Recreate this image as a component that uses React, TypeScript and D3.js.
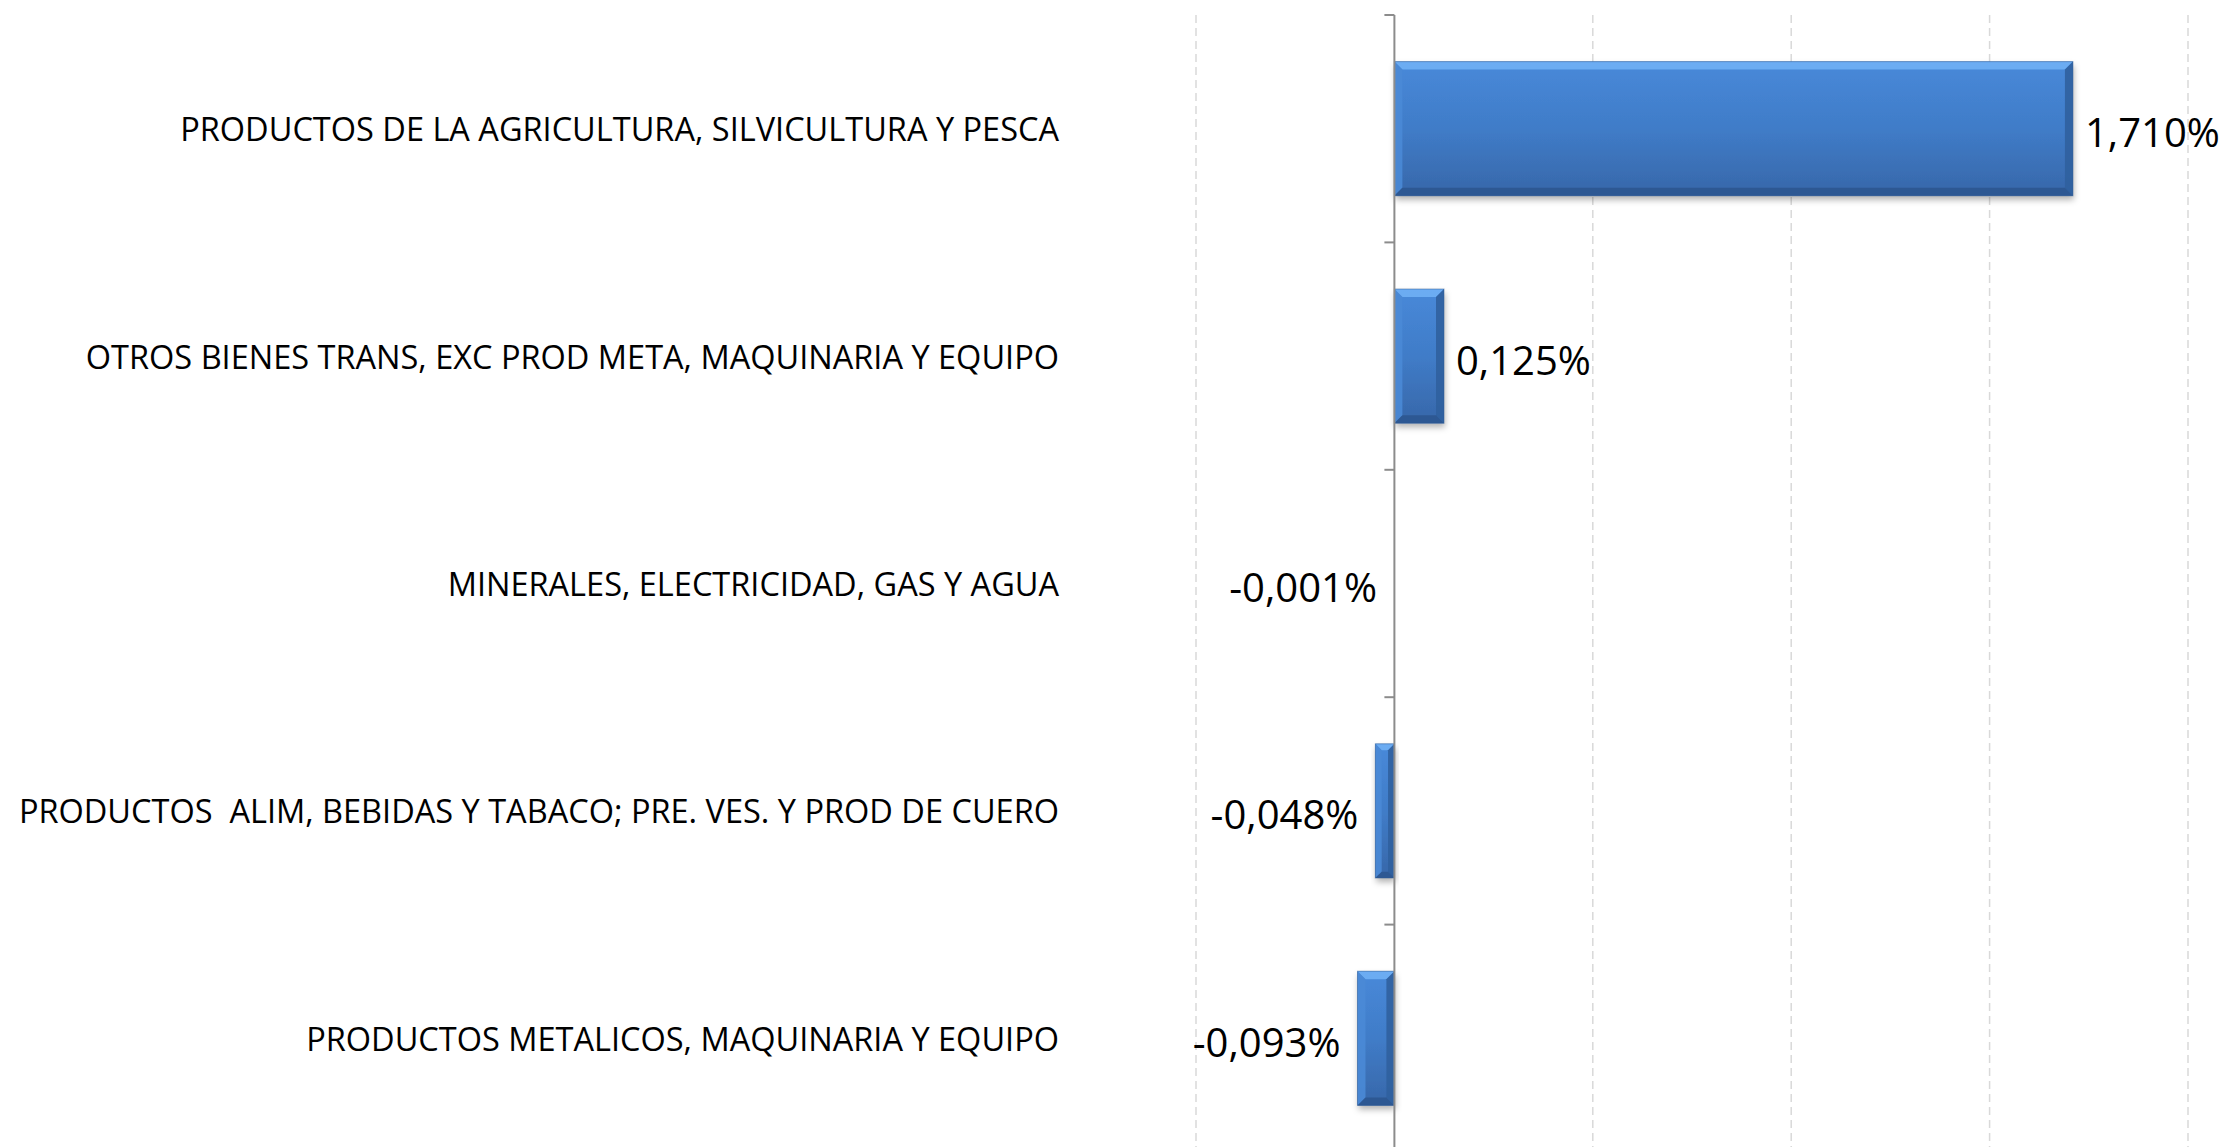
import React, { useRef, useEffect } from "react";
import * as d3 from "d3";

const W = 2223;
const H = 1147;

// categories top to bottom
const categories = [
  "PRODUCTOS DE LA AGRICULTURA, SILVICULTURA Y PESCA",
  "OTROS BIENES TRANS, EXC PROD META, MAQUINARIA Y EQUIPO",
  "MINERALES, ELECTRICIDAD, GAS Y AGUA",
  "PRODUCTOS  ALIM, BEBIDAS Y TABACO; PRE. VES. Y PROD DE CUERO",
  "PRODUCTOS METALICOS, MAQUINARIA Y EQUIPO",
];
// percent values
const values = [1.71, 0.125, -0.001, -0.048, -0.093];
const valueLabels = ["1,710%", "0,125%", "-0,001%", "-0,048%", "-0,093%"];
const gridTicks = [-0.5, 0, 0.5, 1, 1.5, 2];

const plot = { left: 1196, right: 2188, top: 15, bottom: 1152 };

const App = () => {
  const svgRef = useRef<SVGSVGElement>(null);

  useEffect(() => {
    const svg = d3.select(svgRef.current);
    svg.selectAll("*").remove();

    const x = d3.scaleLinear().domain([-0.5, 2]).range([plot.left, plot.right]);
    const y = d3
      .scaleBand<string>()
      .domain(categories)
      .range([plot.top, plot.bottom])
      .paddingInner(0.41)
      .paddingOuter(0.205);

    const defs = svg.append("defs");
    const grad = defs
      .append("linearGradient")
      .attr("id", "barGrad")
      .attr("x1", "0%")
      .attr("y1", "0%")
      .attr("x2", "0%")
      .attr("y2", "100%");
    grad.append("stop").attr("offset", "0%").attr("stop-color", "#4889d9");
    grad.append("stop").attr("offset", "50%").attr("stop-color", "#407cc8");
    grad.append("stop").attr("offset", "100%").attr("stop-color", "#3767a9");

    const shadow = defs
      .append("filter")
      .attr("id", "shadow")
      .attr("x", "-20%")
      .attr("y", "-20%")
      .attr("width", "140%")
      .attr("height", "150%");
    shadow
      .append("feDropShadow")
      .attr("dx", 1)
      .attr("dy", 4)
      .attr("stdDeviation", 3)
      .attr("flood-color", "#000")
      .attr("flood-opacity", 0.3);

    // gridlines
    svg
      .append("g")
      .selectAll("line")
      .data(gridTicks.filter((t) => t !== 0))
      .join("line")
      .attr("x1", (d) => x(d))
      .attr("x2", (d) => x(d))
      .attr("y1", plot.top)
      .attr("y2", H)
      .attr("stroke", "#d9d9d9")
      .attr("stroke-width", 1.5)
      .attr("stroke-dasharray", "8,5");

    // bars
    const bars = svg
      .append("g")
      .selectAll("g")
      .data(values)
      .join("g");

    bars.each(function (v, i) {
      const g = d3.select(this);
      const x0 = x(Math.min(0, v));
      const x1 = x(Math.max(0, v));
      const w = x1 - x0;
      const top = y(categories[i])!;
      const h = y.bandwidth();
      const b = Math.min(8, w / 3, h / 4);

      g.append("rect")
        .attr("x", x0)
        .attr("y", top)
        .attr("width", w)
        .attr("height", h)
        .attr("fill", "url(#barGrad)")
        .attr("filter", "url(#shadow)");

      if (w < 2) return;
      // bevel edges
      const pts = (arr: number[][]) => arr.map((p) => p.join(",")).join(" ");
      g.append("polygon")
        .attr("points", pts([[x0, top], [x1, top], [x1 - b, top + b], [x0 + b, top + b]]))
        .attr("fill", "#72b3f7")
        .attr("opacity", 0.85);
      g.append("polygon")
        .attr("points", pts([[x0, top], [x0 + b, top + b], [x0 + b, top + h - b], [x0, top + h]]))
        .attr("fill", "#4a8ad6")
        .attr("opacity", 0.9);
      g.append("polygon")
        .attr("points", pts([[x1, top], [x1, top + h], [x1 - b, top + h - b], [x1 - b, top + b]]))
        .attr("fill", "#30609e")
        .attr("opacity", 0.9);
      g.append("polygon")
        .attr("points", pts([[x0, top + h], [x0 + b, top + h - b], [x1 - b, top + h - b], [x1, top + h]]))
        .attr("fill", "#2c5790")
        .attr("opacity", 0.9);
      g.append("rect")
        .attr("x", x0)
        .attr("y", top)
        .attr("width", w)
        .attr("height", h)
        .attr("fill", "none")
        .attr("stroke", "#2f5b94")
        .attr("stroke-opacity", 0.5)
        .attr("stroke-width", 1);
    });

    // vertical axis
    const axis = svg.append("g").attr("transform", `translate(${x(0)},0)`);
    axis
      .append("line")
      .attr("y1", plot.top)
      .attr("y2", H)
      .attr("stroke", "#8c8c8c")
      .attr("stroke-width", 2);
    const step = y.step();
    axis
      .selectAll("line.tick")
      .data(d3.range(categories.length + 1))
      .join("line")
      .attr("class", "tick")
      .attr("x1", -10)
      .attr("x2", 0)
      .attr("y1", (d) => plot.top + d * step)
      .attr("y2", (d) => plot.top + d * step)
      .attr("stroke", "#8c8c8c")
      .attr("stroke-width", 2);

    // category labels
    svg
      .append("g")
      .selectAll("text")
      .data(categories)
      .join("text")
      .attr("x", 1059)
      .attr("y", (d) => y(d)! + y.bandwidth() / 2)
      .attr("text-anchor", "end")
      .attr("dominant-baseline", "central")
      .style("font-family", "'Open Sans', sans-serif")
      .style("font-size", "32.5px")
      .style("white-space", "pre")
      .attr("fill", "#000")
      .text((d) => d);

    // value labels
    svg
      .append("g")
      .selectAll("text")
      .data(values)
      .join("text")
      .attr("x", (v) => (v >= 0 ? x(v) + 12 : x(v) - 17))
      .attr("y", (_, i) => y(categories[i])! + y.bandwidth() / 2 + 3)
      .attr("text-anchor", (v) => (v >= 0 ? "start" : "end"))
      .attr("dominant-baseline", "central")
      .style("font-family", "'Open Sans', sans-serif")
      .style("font-size", "40px")
      .attr("fill", "#000")
      .text((_, i) => valueLabels[i]);
  }, []);

  return (
    <svg
      ref={svgRef}
      width={W}
      height={H}
      style={{ position: "absolute", left: 0, top: 0, background: "#fff" }}
    />
  );
};

export default App;
